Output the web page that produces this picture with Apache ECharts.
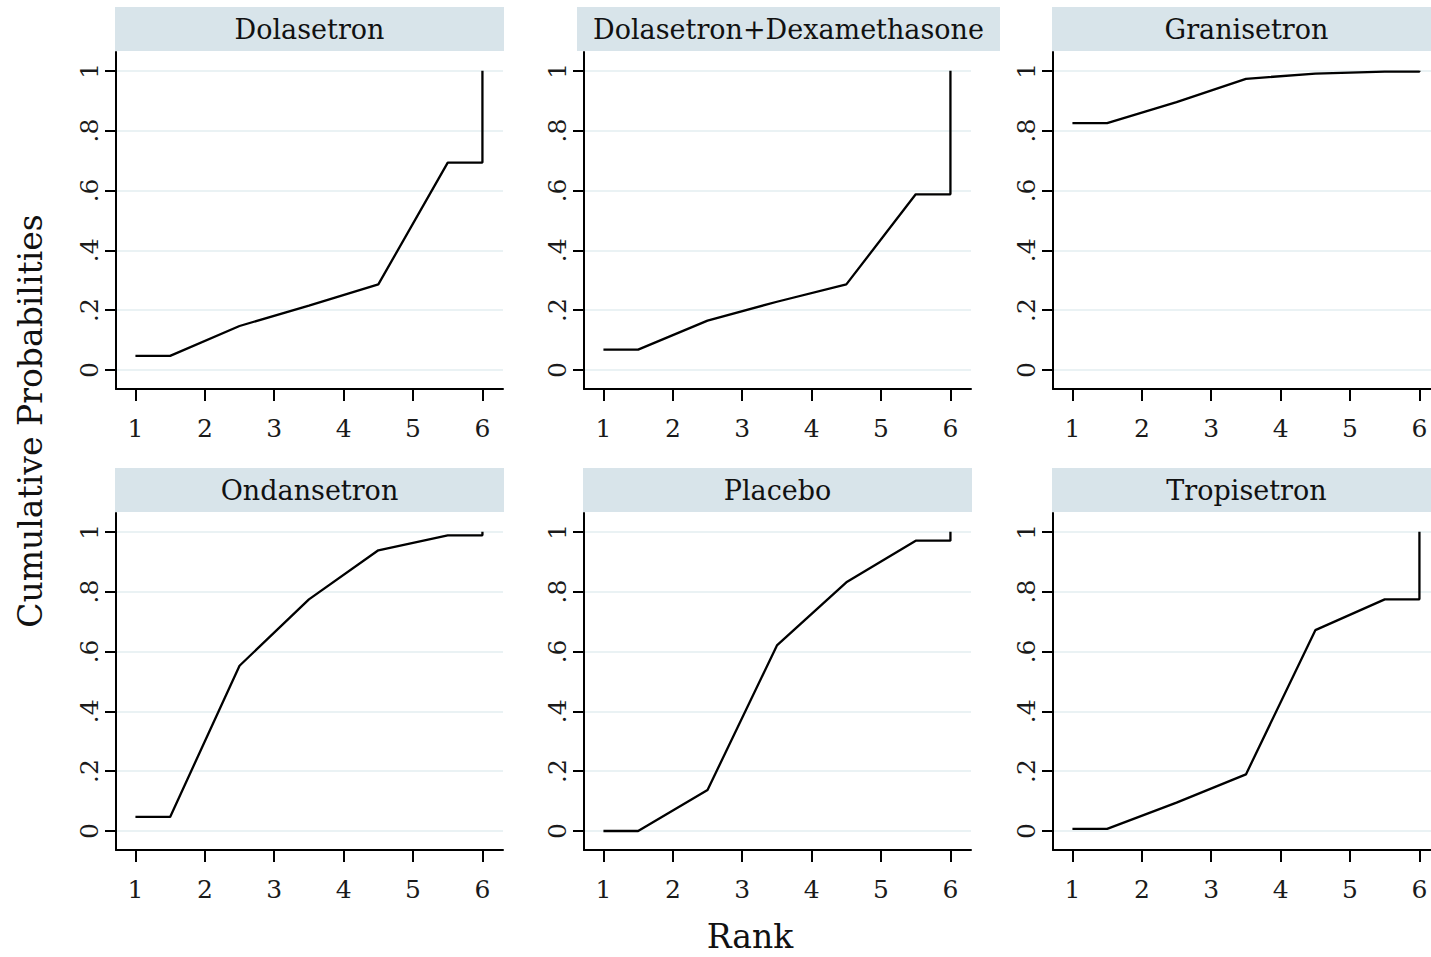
<!DOCTYPE html>
<html>
<head>
<meta charset="utf-8">
<script src="https://cdn.jsdelivr.net/npm/echarts@6/dist/echarts.min.js"></script>
<style>
  html, body { margin: 0; padding: 0; background: #fff; }
  #main { width: 1431px; height: 957px; }
</style>
</head>
<body>
<div id="main"></div>
<script>
// treatments, one panel each
var drugs = ['Dolasetron', 'Dolasetron+Dexamethasone', 'Granisetron',
             'Ondansetron', 'Placebo', 'Tropisetron'];
// cumulative probability of rank <= 1..5 (rank 6 is always 1)
var cumDolasetron = [0.047, 0.147, 0.215, 0.286, 0.693];
var cumDolaDexa   = [0.068, 0.165, 0.228, 0.286, 0.587];
var cumGranisetron = [0.825, 0.895, 0.973, 0.990, 0.997];
var cumOndansetron = [0.047, 0.552, 0.774, 0.938, 0.988];
var cumPlacebo     = [0.000, 0.137, 0.620, 0.831, 0.970];
var cumTropisetron = [0.007, 0.095, 0.189, 0.671, 0.774];
var cumAll = [cumDolasetron, cumDolaDexa, cumGranisetron, cumOndansetron, cumPlacebo, cumTropisetron];

var rankTicks = [1, 2, 3, 4, 5, 6];
var probTicks = [0, 0.2, 0.4, 0.6, 0.8, 1];

// layout
var colLeft = [116, 584, 1053];
var rowTop = [52, 513];
var plotW = 387, plotH = 337;
var pxPerRank = 69.4;
var stripH = 44;
var serif = '"DejaVu Serif", serif';

var chart = echarts.init(document.getElementById('main'), null, { renderer: 'svg' });

function stepPoints(c) {
    // stata style: flat to 1.5, joins at the half ranks, flat to 6 then up to 1
    return [[1, c[0]], [1.5, c[0]], [2.5, c[1]], [3.5, c[2]], [4.5, c[3]],
            [5.5, c[4]], [6, c[4]], [6, 1]];
}

function probLabel(v) {
    if (v == 0) return '0';
    if (v == 1) return '1';
    return String(Math.round(v * 10) / 10).replace(/^0/, '');
}

var grids = [], xAxes = [], yAxes = [], series = [], graphics = [];

for (var i = 0; i < drugs.length; i++) {
    var col = i % 3, row = Math.floor(i / 3);
    // last column runs off the right edge, so cut the grid at the canvas
    var w = Math.min(plotW, 1431 - colLeft[col]);
    grids.push({ left: colLeft[col], top: rowTop[row], width: w, height: plotH });
    xAxes.push({
        gridIndex: i, type: 'value', min: 0.72, max: 0.72 + w / pxPerRank,
        axisLine: { onZero: false, lineStyle: { color: '#000', width: 2 } },
        axisTick: { customValues: rankTicks, length: 12, lineStyle: { color: '#000', width: 2 } },
        axisLabel: { customValues: rankTicks, margin: 27, fontFamily: serif, fontSize: 25, color: '#1a1a1a' },
        splitLine: { show: false }
    });
    yAxes.push({
        gridIndex: i, type: 'value', min: -0.0635, max: 1.0625,
        axisLine: { show: true, onZero: false, lineStyle: { color: '#000', width: 2 } },
        axisTick: { customValues: probTicks, length: 11, lineStyle: { color: '#000', width: 2 } },
        axisLabel: { customValues: probTicks, rotate: 90, margin: 14, fontFamily: serif, fontSize: 25,
                     color: '#1a1a1a', formatter: probLabel },
        splitLine: { show: true, lineStyle: { color: '#eaf2f4', width: 2 } }
    });
    series.push({
        type: 'line', xAxisIndex: i, yAxisIndex: i,
        data: stepPoints(cumAll[i]), showSymbol: false, symbol: 'none',
        lineStyle: { color: '#000', width: 2.3 }, animation: false
    });

    // strip header
    var sx = colLeft[col] - 1, sw = plotW + 2;
    if (drugs[i].length > 20) { sx = 577; sw = 423; }
    graphics.push({
        type: 'rect', shape: { x: sx, y: rowTop[row] - stripH - 1, width: sw, height: stripH },
        style: { fill: '#d8e4ea' }, silent: true
    });
    graphics.push({
        type: 'text', x: sx + sw / 2, y: rowTop[row] - stripH / 2 - 1,
        style: { text: drugs[i], font: '27px ' + serif, fill: '#111', align: 'center', verticalAlign: 'middle' }
    });
}

graphics.push({
    type: 'text', x: 30, y: 421, rotation: Math.PI / 2,
    style: { text: 'Cumulative Probabilities', font: '33px ' + serif, fill: '#111', align: 'center', verticalAlign: 'middle' }
});
graphics.push({
    type: 'text', x: 750, y: 936,
    style: { text: 'Rank', font: '33px ' + serif, fill: '#111', align: 'center', verticalAlign: 'middle' }
});

chart.setOption({
    backgroundColor: '#fff',
    animation: false,
    grid: grids,
    xAxis: xAxes,
    yAxis: yAxes,
    series: series,
    graphic: graphics
});
</script>
</body>
</html>
